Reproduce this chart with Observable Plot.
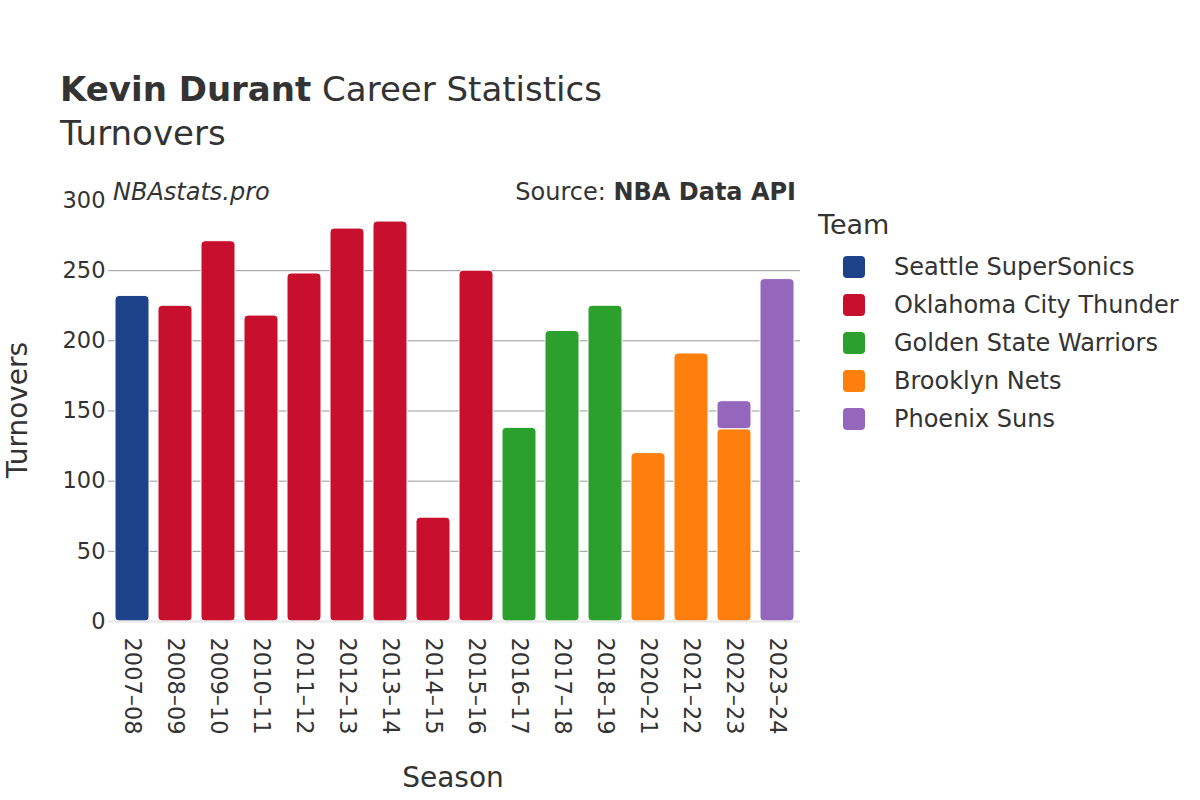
<!DOCTYPE html>
<html>
<head>
<meta charset="utf-8">
<script src="https://cdn.jsdelivr.net/npm/d3@7"></script>
<script src="https://cdn.jsdelivr.net/npm/@observablehq/plot@0.6"></script>
<style>
  body { margin: 0; background: #fff; font-family: "DejaVu Sans", sans-serif; color: #333; }
  #wrap { position: relative; width: 1200px; height: 800px; overflow: hidden; }
  #wrap > * { position: absolute; white-space: nowrap; line-height: 1; }
  #chart { left: 0; top: 0; }
  .title { left: 60px; top: 72px; font-size: 34px; color: #333; }
  .subtitle { left: 60px; top: 116px; font-size: 34px; color: #333; }
  .brand { left: 113px; top: 180px; font-size: 24px; font-style: italic; color: #333; }
  .source { right: 404px; top: 180px; font-size: 24px; color: #333; }
  .ytitle { left: 18px; top: 410px; font-size: 28px; transform: translate(-50%, -50%) rotate(-90deg); transform-origin: center; }
  .xtitle { left: 453px; top: 764px; font-size: 28px; transform: translateX(-50%); }
  #legend { left: 818px; top: 211px; }
  #legend .lt { font-size: 27px; margin-bottom: 10px; }
  #legend .item { display: flex; align-items: center; height: 38px; font-size: 24px; }
  #legend .sw { width: 22px; height: 22px; border-radius: 4px; margin-left: 25px; margin-right: 29px; }
</style>
</head>
<body>
<div id="wrap">
  <div id="chart"></div>
  <div class="title"><b>Kevin Durant</b> Career Statistics</div>
  <div class="subtitle">Turnovers</div>
  <div class="brand">NBAstats.pro</div>
  <div class="source">Source: <b>NBA Data API</b></div>
  <div class="ytitle">Turnovers</div>
  <div class="xtitle">Season</div>
  <div id="legend"></div>
</div>
<script>
// ---- data ----
const seasons = ["2007–08","2008–09","2009–10","2010–11","2011–12","2012–13","2013–14","2014–15","2015–16","2016–17","2017–18","2018–19","2020–21","2021–22","2022–23","2022–23","2023–24"];
const teams = ["Seattle SuperSonics","Oklahoma City Thunder","Oklahoma City Thunder","Oklahoma City Thunder","Oklahoma City Thunder","Oklahoma City Thunder","Oklahoma City Thunder","Oklahoma City Thunder","Oklahoma City Thunder","Golden State Warriors","Golden State Warriors","Golden State Warriors","Brooklyn Nets","Brooklyn Nets","Brooklyn Nets","Phoenix Suns","Phoenix Suns"];
const turnovers = [232, 225, 271, 218, 248, 280, 285, 74, 250, 138, 207, 225, 120, 191, 137, 20, 244];
const teamNames = ["Seattle SuperSonics","Oklahoma City Thunder","Golden State Warriors","Brooklyn Nets","Phoenix Suns"];
const teamColors = ["#1d428a","#c8102e","#2ca02c","#ff7f0e","#9467bd"];
const yTicks = [0, 50, 100, 150, 200, 250, 300];
const gridTicks = [50, 100, 150, 200, 250];

const rows = seasons.map((s, i) => ({season: s, team: teams[i], value: turnovers[i]}));
const seasonDomain = [...new Set(seasons)];

const plot = Plot.plot({
  width: 1200,
  height: 800,
  marginLeft: 108,
  marginRight: 400,
  marginTop: 200,
  marginBottom: 179,
  style: {fontFamily: "DejaVu Sans, sans-serif", fontSize: "22px", color: "#333", background: "transparent"},
  x: {domain: seasonDomain, paddingInner: 0.21, paddingOuter: 0.105, label: null},
  y: {domain: [0, 300], label: null},
  color: {domain: teamNames, range: teamColors},
  marks: [
    Plot.ruleY(gridTicks, {stroke: "#999", strokeWidth: 1}),
    Plot.barY(rows, {x: "season", y: "value", fill: "team", rx: 4, stroke: "white", strokeWidth: 1, order: null}),
    Plot.ruleY([0], {stroke: "#e8e8e8", strokeWidth: 2}),
    Plot.axisY({ticks: yTicks, tickSize: 0, tickPadding: 3, label: null, fontSize: 22.5}),
    Plot.axisX({tickSize: 0, tickPadding: 16, tickRotate: 90, label: null, fontSize: 22.5})
  ]
});
document.getElementById("chart").appendChild(plot);

// legend
const legend = document.getElementById("legend");
const lt = document.createElement("div");
lt.className = "lt";
lt.textContent = "Team";
legend.appendChild(lt);
teamNames.forEach((t, i) => {
  const it = document.createElement("div");
  it.className = "item";
  const sw = document.createElement("span");
  sw.className = "sw";
  sw.style.background = teamColors[i];
  const tx = document.createElement("span");
  tx.textContent = t;
  it.appendChild(sw);
  it.appendChild(tx);
  legend.appendChild(it);
});
</script>
</body>
</html>
